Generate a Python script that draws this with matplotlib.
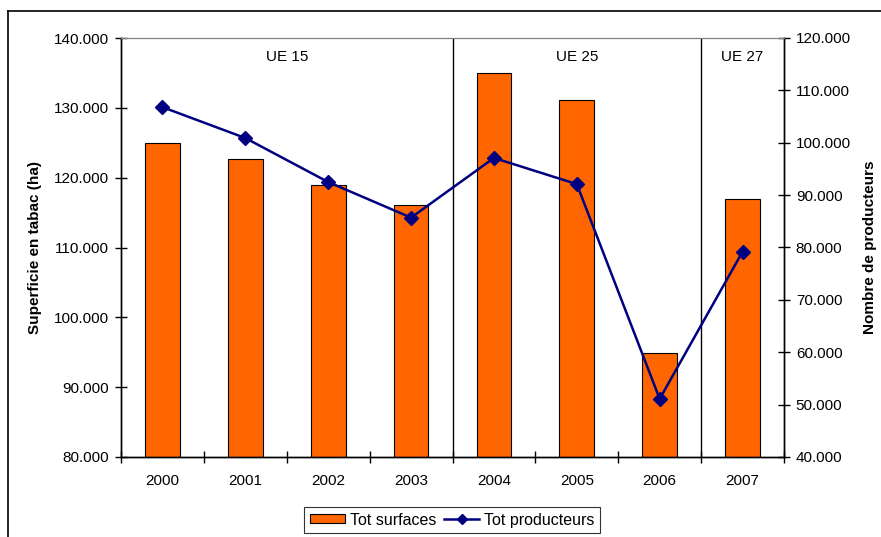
import matplotlib.pyplot as plt
from matplotlib.lines import Line2D

plt.rcParams['font.family'] = ['Liberation Sans', 'DejaVu Sans']

years = ["2000", "2001", "2002", "2003", "2004", "2005", "2006", "2007"]
surfaces = [125.0, 122.7, 118.9, 116.1, 135.0, 131.1, 94.9, 116.9]  # milliers ha
producteurs = [106.8, 100.9, 92.5, 85.7, 97.1, 92.1, 51.1, 79.2]  # milliers
groupes = ["UE 15", "UE 25", "UE 27"]
groupe_pos = [1.5, 5.0, 7.0]
separations = [3.5, 6.5]

def fmt(v, pos):
    return f"{int(round(v))}.000"

fig = plt.figure(figsize=(8.81, 5.37), dpi=100)
ax = fig.add_axes([121/881, 1-457/537, (784-121)/881, (457-38)/537])
x = list(range(len(years)))

ax.bar(x, surfaces, width=0.42, color="#FF6600", edgecolor="black", linewidth=0.8,
       label="Tot surfaces", zorder=2)
ax.set_ylim(80, 140)
ax.set_yticks(range(80, 141, 10))
ax.yaxis.set_major_formatter(plt.FuncFormatter(fmt))
ax.set_xlim(-0.5, 7.5)
ax.set_xticks([i - 0.5 for i in range(len(years) + 1)])
ax.set_xticklabels([])
ax.set_xticks(x, minor=True)
ax.set_xticklabels(years, minor=True)
ax.tick_params(axis="x", which="minor", length=0, pad=12, labelsize=11)
ax.tick_params(axis="x", which="major", direction="inout", length=9, width=1)
ax.tick_params(axis="y", direction="inout", length=9, width=1, labelsize=11, pad=4)
ax.set_ylabel("Superficie en tabac (ha)", fontsize=11, fontweight="bold", labelpad=9)

for s in separations:
    ax.axvline(s, color="black", linewidth=1, zorder=1)
for g, p in zip(groupes, groupe_pos):
    ax.text(p, 137.3, g, ha="center", va="center", fontsize=11)

ax2 = ax.twinx()
ax2.plot(x, producteurs, color="#000080", linewidth=1.8, marker="D", markersize=7,
         label="Tot producteurs", zorder=3)
ax2.set_ylim(40, 120)
ax2.set_yticks(range(40, 121, 10))
ax2.yaxis.set_major_formatter(plt.FuncFormatter(fmt))
ax2.tick_params(axis="y", direction="inout", length=9, width=1, labelsize=11, pad=4)
ax2.set_ylabel("Nombre de producteurs", fontsize=11, fontweight="bold", labelpad=9)

for a in (ax, ax2):
    a.spines["top"].set_color("#808080")
    for sp in ("left", "right", "bottom"):
        a.spines[sp].set_color("black")
        a.spines[sp].set_linewidth(1)

h1, l1 = ax.get_legend_handles_labels()
h2, l2 = ax2.get_legend_handles_labels()
leg = fig.legend(h1 + h2, l1 + l2, loc="upper center", bbox_to_anchor=(452/881, 1-499/537),
                 ncol=2, fontsize=11.5, frameon=True, fancybox=False, edgecolor="black",
                 handlelength=2.2, handleheight=0.5, columnspacing=0.5, handletextpad=0.3,
                 borderpad=0.35, markerscale=0.75)
leg.get_frame().set_linewidth(0.8)

# cadre du graphique
fig.add_artist(Line2D([8/881, 8/881], [0, 1-11/537], color="black", linewidth=1.2))
fig.add_artist(Line2D([8/881, 1], [1-11/537, 1-11/537], color="black", linewidth=1.2))

fig.savefig("out.png", dpi=100)
